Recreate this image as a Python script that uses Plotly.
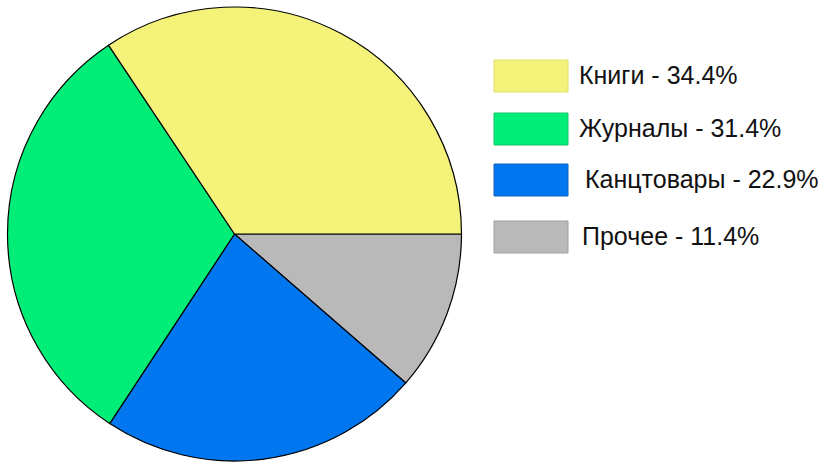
import plotly.graph_objects as go

W, H = 826, 466

labels = ["Книги", "Журналы", "Канцтовары", "Прочее"]
shares = [34.4, 31.4, 22.9, 11.4]
colors = ["#F5F27A", "#00EE77", "#0077EE", "#B9B9B9"]
edge_colors = ["#E2DE6A", "#10C868", "#1060C0", "#A0A0A0"]

fig = go.Figure()
# reversed + clockwise so that "Книги" starts at 3 o'clock going up
fig.add_trace(go.Pie(
    labels=labels[::-1],
    values=shares[::-1],
    sort=False,
    direction="clockwise",
    rotation=90,
    textinfo="none",
    hoverinfo="label+percent",
    marker=dict(colors=colors[::-1], line=dict(color="black", width=1.2)),
    domain=dict(x=[7 / W, 462 / W], y=[1 - 461 / H, 1 - 7 / H]),
    showlegend=False,
))

# hand-made legend: big swatches with text next to them
box_top = [60, 113, 164, 221]
text_x = [577, 577, 583, 580]
shapes = []
annotations = []
for i, lab in enumerate(labels):
    y0 = box_top[i]
    shapes.append(dict(
        type="rect", xref="paper", yref="paper",
        x0=494 / W, x1=568 / W, y0=1 - (y0 + 32) / H, y1=1 - y0 / H,
        fillcolor=colors[i], line=dict(color=edge_colors[i], width=1),
    ))
    annotations.append(dict(
        xref="paper", yref="paper", x=text_x[i] / W, y=1 - (y0 + 15) / H,
        xanchor="left", yanchor="middle", showarrow=False,
        text=f"{lab} - {shares[i]}%",
        font=dict(family="Liberation Sans, Arial", size=25, color="#111111"),
    ))

fig.update_layout(
    width=W, height=H,
    margin=dict(l=0, r=0, t=0, b=0),
    paper_bgcolor="white",
    plot_bgcolor="white",
    shapes=shapes,
    annotations=annotations,
)

# page body has a default 8px margin, drop it so the figure sits at 0,0
fig.write_html("out.html", config={"displayModeBar": False},
               post_script="document.body.style.margin='0';")
